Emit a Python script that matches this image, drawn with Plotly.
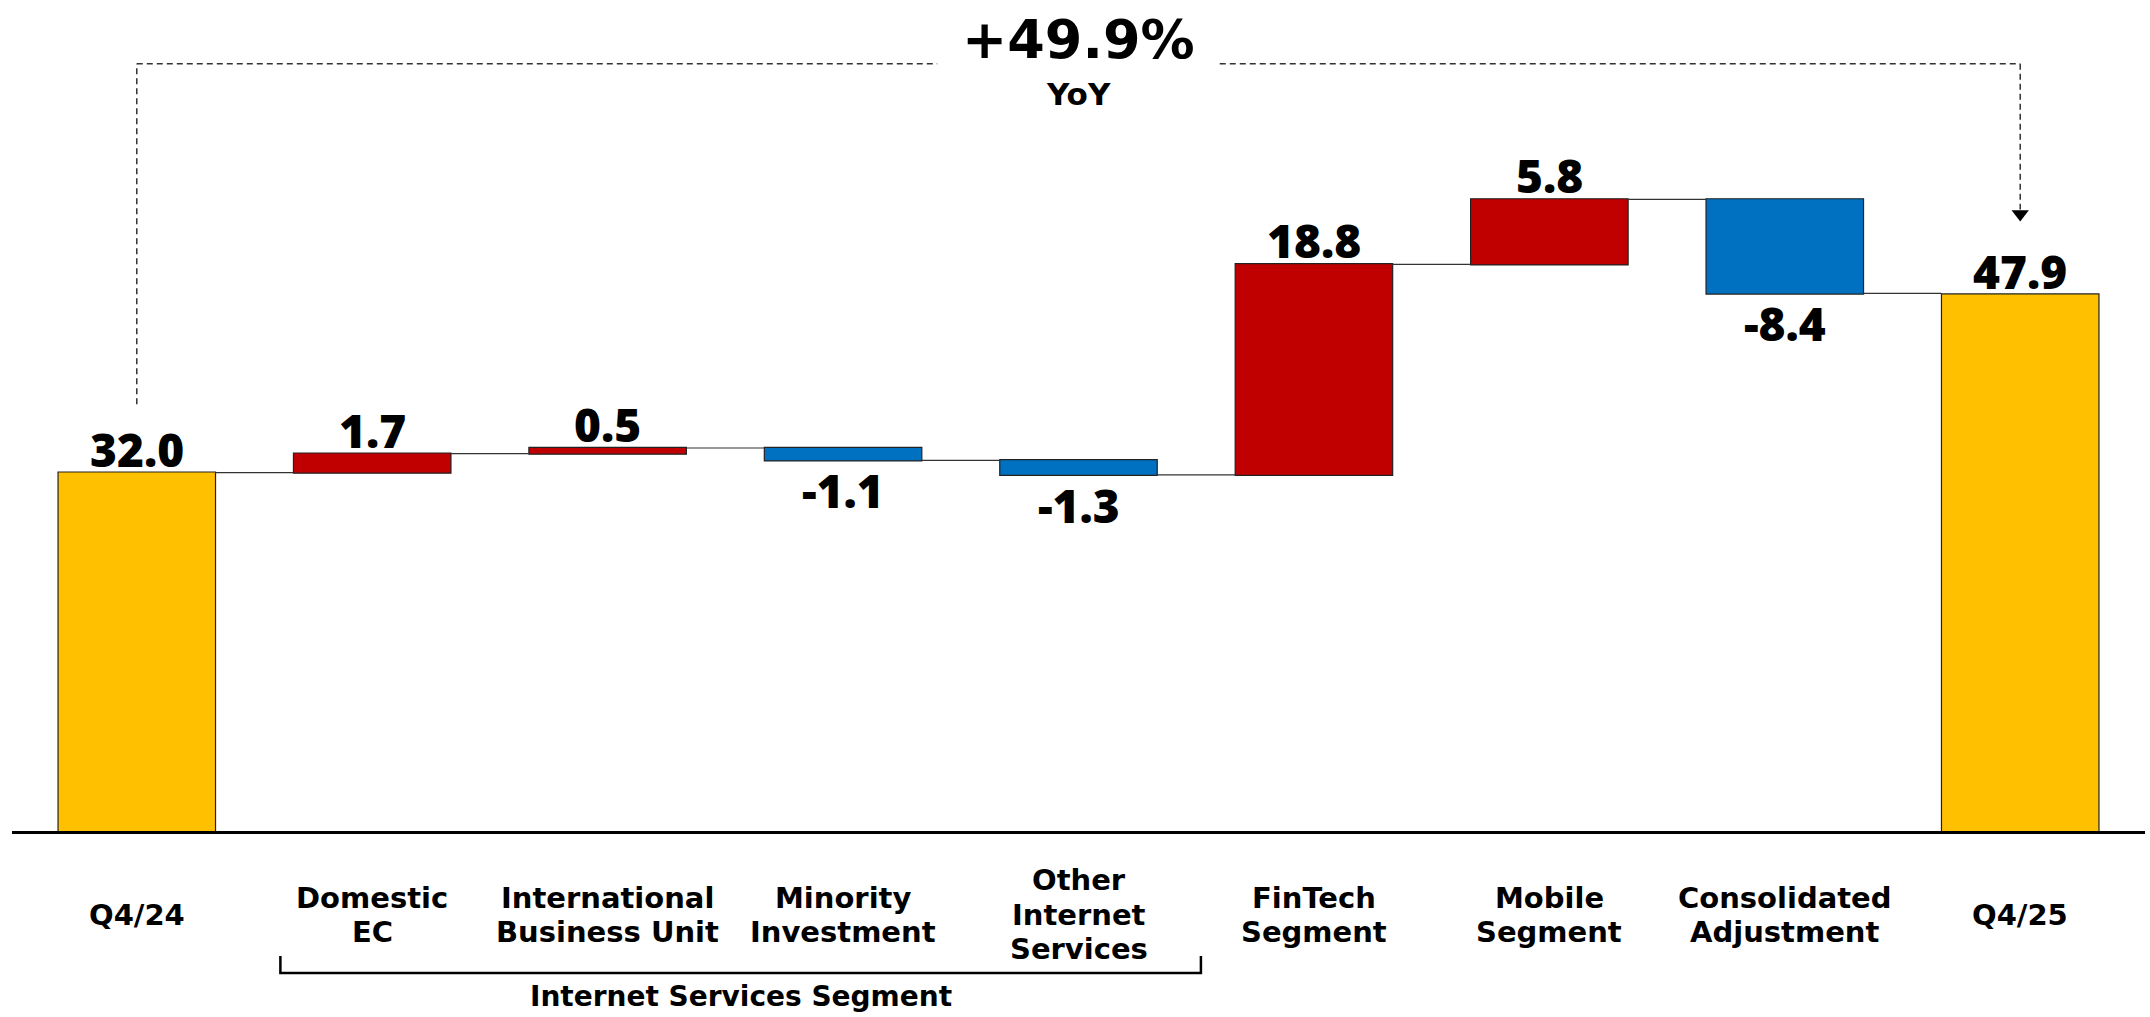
import plotly.graph_objects as go

# ---------------- data ----------------
categories = ["Q4/24", "Domestic EC", "International Business Unit", "Minority Investment",
              "Other Internet Services", "FinTech Segment", "Mobile Segment",
              "Consolidated Adjustment", "Q4/25"]
category_labels = ["Q4/24", "Domestic<br>EC", "International<br>Business Unit",
                   "Minority<br>Investment", "Other<br>Internet<br>Services",
                   "FinTech<br>Segment", "Mobile<br>Segment",
                   "Consolidated<br>Adjustment", "Q4/25"]
values = [32.0, 1.7, 0.5, -1.1, -1.3, 18.8, 5.8, -8.4, 47.9]
measures = ["absolute", "relative", "relative", "relative", "relative",
            "relative", "relative", "relative", "absolute"]
value_labels = ["32.0", "1.7", "0.5", "-1.1", "-1.3", "18.8", "5.8", "-8.4", "47.9"]
yoy_value = "+49.9%"
yoy_caption = "YoY"
group_label = "Internet Services Segment"
group_first, group_last = 1, 4

# ---------------- styles ----------------
C_TOTAL = "#FFC000"
C_UP = "#C00000"
C_DOWN = "#0070C0"
FONT_VAL = "'Open Sans', 'Noto Sans', sans-serif"
FONT_TXT = "'DejaVu Sans', Verdana, sans-serif"
Y_MAX = 74.2
LINE_PX = 34.5

# compute bar extents from data
level = 0.0
tops, bottoms = [], []
for v, m in zip(values, measures):
    if m == "absolute":
        bottoms.append(0.0); tops.append(v); level = v
    else:
        start = level; level = level + v
        tops.append(max(start, level)); bottoms.append(min(start, level))

fig = go.Figure()
fig.add_trace(go.Waterfall(
    x=categories, y=values, measure=measures,
    increasing=dict(marker=dict(color=C_UP, line=dict(color="#222", width=1.2))),
    decreasing=dict(marker=dict(color=C_DOWN, line=dict(color="#222", width=1.2))),
    totals=dict(marker=dict(color=C_TOTAL, line=dict(color="#222", width=1.2))),
    connector=dict(line=dict(color="#333", width=1.2), mode="between"),
    hoverinfo="skip", showlegend=False,
))

val_font = dict(family=FONT_VAL, size=46, color="black", weight=800)
annotations = []
for i, (cat, v, m, lab) in enumerate(zip(categories, values, measures, value_labels)):
    if m == "absolute" or v >= 0:
        annotations.append(dict(x=cat, y=tops[i], xref="x", yref="y", text=lab,
                                showarrow=False, yanchor="bottom", yshift=-9, font=val_font))
    else:
        annotations.append(dict(x=cat, y=bottoms[i], xref="x", yref="y", text=lab,
                                showarrow=False, yanchor="top", yshift=3, font=val_font))

# category labels, one annotation per line, block vertically centred
for cat, lab in zip(categories, category_labels):
    lines = lab.split("<br>")
    n = len(lines)
    for k, line in enumerate(lines):
        annotations.append(dict(x=cat, y=-0.101, xref="x", yref="paper", text=line,
                                showarrow=False, yanchor="middle", xanchor="center",
                                borderpad=0,
                                yshift=-(k - (n - 1) / 2) * LINE_PX,
                                font=dict(family=FONT_TXT, size=29, color="black", weight="bold")))

# group label
annotations.append(dict(x=(group_first + group_last) / 2 + 0.065, y=-0.199, xref="x", yref="paper",
                        text=group_label, showarrow=False, yanchor="middle", borderpad=0,
                        font=dict(family=FONT_TXT, size=28, color="black", weight="bold")))

# YoY headline
mid = len(categories) // 2
annotations.append(dict(x=mid, y=0.952, xref="x", yref="paper", yanchor="middle",
                        text=yoy_value, showarrow=False, borderpad=0,
                        font=dict(family=FONT_TXT, size=54, color="black", weight="bold")))
annotations.append(dict(x=mid, y=0.887, xref="x", yref="paper", yanchor="middle",
                        text=yoy_caption, showarrow=False, borderpad=0,
                        font=dict(family=FONT_TXT, size=31, color="black", weight="bold")))

# dashed bracket from first total to last total
DASH_LEVEL = 68.5
dash = dict(color="#333", width=1.5, dash="6px,4px")
last = len(categories) - 1
shapes = [
    dict(type="line", xref="x", yref="y", x0=0, x1=0, y0=tops[0] + 6.1, y1=DASH_LEVEL, line=dash),
    dict(type="line", xref="x", yref="y", x0=0, x1=mid - 0.6, y0=DASH_LEVEL, y1=DASH_LEVEL, line=dash),
    dict(type="line", xref="x", yref="y", x0=mid + 0.6, x1=last, y0=DASH_LEVEL, y1=DASH_LEVEL, line=dash),
    dict(type="line", xref="x", yref="y", x0=last, x1=last, y0=DASH_LEVEL, y1=tops[last] + 7.6, line=dash),
    # bracket under Internet Services sub-segments
    dict(type="path", xref="x", yref="paper",
         path=f"M {group_first - 0.39},-0.1504 L {group_first - 0.39},-0.1709 "
              f"L {group_last + 0.52},-0.1709 L {group_last + 0.52},-0.1504",
         line=dict(color="black", width=2.5)),
]

# arrow head
fig.add_trace(go.Scatter(x=[categories[last]], y=[tops[last] + 7.2], mode="markers",
                         marker=dict(symbol="triangle-down", size=15, color="black"),
                         hoverinfo="skip", showlegend=False, cliponaxis=False))

fig.update_layout(
    width=2150, height=1017,
    margin=dict(l=12, r=5, t=0, b=186),
    paper_bgcolor="white", plot_bgcolor="white",
    waterfallgap=0.331,
    xaxis=dict(range=[-0.53, 8.53], showticklabels=False, ticks="", showgrid=False,
               zeroline=False, showline=True, linecolor="black", linewidth=3),
    yaxis=dict(range=[0, Y_MAX], visible=False, showgrid=False, zeroline=False),
    annotations=annotations, shapes=shapes,
    font=dict(family=FONT_TXT),
)

fig.write_html("out.html")
